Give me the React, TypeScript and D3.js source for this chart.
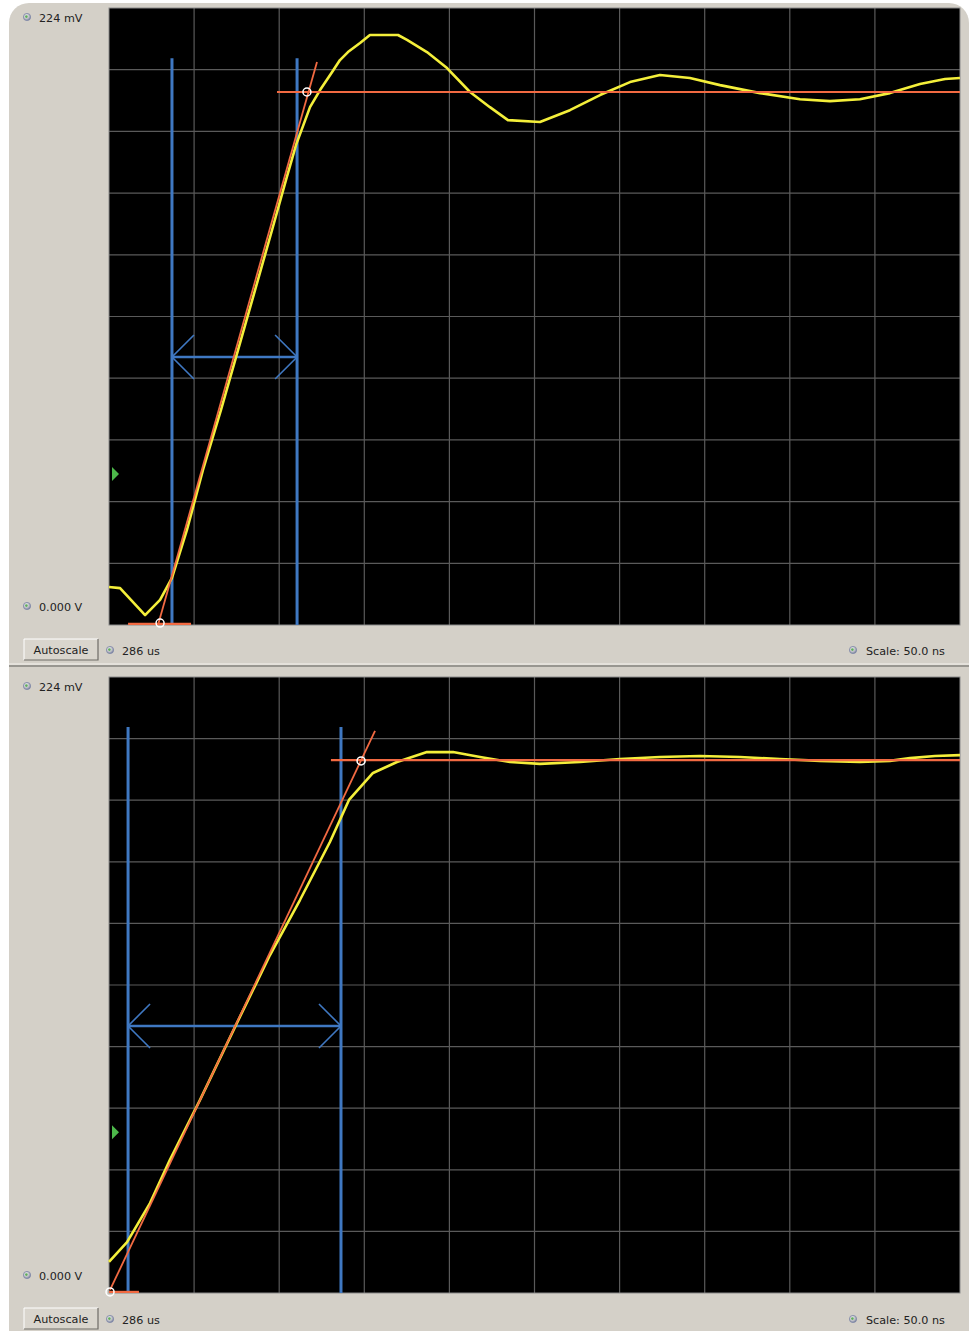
import React from "react";
import * as d3 from "d3";

// time in ns (50 ns/div), amplitude in mV (0 .. 224 mV)
const TIME_A = [0, 6.5, 21.2, 30.0, 37.0, 45.8, 55.2, 65.8, 75.8, 85.8, 95.8, 104.0, 109.9, 118.1, 124.0, 131.0, 135.7, 140.4, 147.5, 153.3, 169.8, 175.1, 186.8, 198.6, 212.1, 223.8, 234.4, 253.2, 270.8, 288.5, 306.1, 323.7, 341.3, 359.0, 382.5, 406.0, 423.6, 441.2, 458.8, 476.5, 491.2, 500];
const MV_A = [13.8, 13.4, 3.6, 9.1, 17.1, 34.5, 56.3, 78.1, 99.8, 121.6, 143.4, 161.6, 174.3, 188.0, 194.2, 200.7, 205.1, 208.0, 211.3, 214.2, 214.2, 212.4, 208.0, 202.2, 193.5, 188.0, 183.3, 182.6, 186.9, 192.4, 197.1, 199.7, 198.6, 196.0, 193.1, 190.9, 190.2, 190.9, 193.1, 196.4, 198.2, 198.6];

const TIME_B = [0, 10.6, 24.1, 35.8, 53.5, 74.0, 94.6, 112.2, 129.8, 141.0, 155.1, 169.2, 186.8, 202.1, 218.0, 235.6, 253.2, 276.7, 300.2, 323.7, 347.2, 370.7, 394.2, 417.7, 441.2, 458.8, 470.6, 485.3, 500];
const MV_B = [11.3, 18.5, 32.7, 48.4, 70.2, 96.7, 122.9, 142.9, 164.0, 179.3, 189.1, 193.1, 196.7, 196.7, 194.9, 193.1, 192.4, 193.1, 194.2, 194.9, 195.3, 194.9, 194.2, 193.5, 193.1, 193.5, 194.5, 195.3, 195.6];

// fitted edge line [t0, v0, t1, v1]
const FIT_A = [28.8, 0, 122.2, 204.4];
const FIT_B = [0.6, 1.1, 156.3, 204.4];
// reference markers [t, mV]
const MARKS_A = [[30.0, 0.7], [116.3, 193.5]];
const MARKS_B = [[0.6, 0.4], [148.1, 193.5]];
// level lines [tStart, tEnd, mV]
const LEVELS_A = [[11.2, 48.2, 0.4], [98.7, 500, 193.5]];
const LEVELS_B = [[0, 17.6, 0.4], [130.4, 500, 193.8]];
// cursors: times, top mV, arrow mV
const CURSORS_A = [37.0, 110.5];
const CURSORS_B = [11.2, 136.3];
const CURSOR_TOP = 205.8;
const ARROW_A = 97.3;
const ARROW_B = 97.1;
const TRIGGER_A = 54.8;
const TRIGGER_B = 58.5;

const V_TOP_LABEL = "224 mV";
const V_BOT_LABEL = "0.000 V";
const TIMEBASE_LABEL = "286 us";
const SCALE_LABEL = "Scale: 50.0 ns";

const FONT = "'DejaVu Sans', Verdana, sans-serif";
const FS = 11.2;
const PLOT_X = 109;
const PLOT_W = 851;

const Led = ({ x, y }: { x: number; y: number }) => (
    <g>
        <circle cx={x} cy={y} r={3.6} fill="url(#ledGrad)" stroke="#7d86a8" strokeWidth={0.8} />
        <circle cx={x - 0.6} cy={y - 0.4} r={1.3} fill="#5fae5a" />
    </g>
);

interface ScopeProps {
    top: number;
    height: number;
    time: number[];
    mv: number[];
    fit: number[];
    marks: number[][];
    levels: number[][];
    cursors: number[];
    arrow: number;
    trigger: number;
}

const Scope = ({ top, height, time, mv, fit, marks, levels, cursors, arrow, trigger }: ScopeProps) => {
    const x = d3.scaleLinear().domain([0, 500]).range([PLOT_X, PLOT_X + PLOT_W]);
    const y = d3.scaleLinear().domain([0, 224]).range([top + height, top]);
    const pts = time.map((t, i) => [t, mv[i]] as [number, number]);
    const line = d3.line<[number, number]>().x(d => x(d[0])).y(d => y(d[1]));
    const xTicks = d3.range(0, 501, 50);
    const yTicks = d3.range(0, 11).map(i => i * 22.4);
    const blue = "#3f78c2";
    const red = "#f26a42";
    const ay = y(arrow);
    const [c0, c1] = cursors.map(c => x(c));
    const head = 22;

    return (
        <g>
            <rect x={PLOT_X} y={top} width={PLOT_W} height={height} fill="#000" />
            {xTicks.slice(1, -1).map(t => (
                <line key={"x" + t} x1={x(t)} x2={x(t)} y1={top} y2={top + height} stroke="#5a5a5a" strokeWidth={1.2} />
            ))}
            {yTicks.slice(1, -1).map(t => (
                <line key={"y" + t} x1={PLOT_X} x2={PLOT_X + PLOT_W} y1={y(t)} y2={y(t)} stroke="#5a5a5a" strokeWidth={1.2} />
            ))}
            <rect x={PLOT_X} y={top} width={PLOT_W} height={height} fill="none" stroke="#8a8a8a" strokeWidth={1} />

            {cursors.map((c, i) => (
                <line key={i} x1={x(c)} x2={x(c)} y1={y(CURSOR_TOP)} y2={top + height} stroke={blue} strokeWidth={3} />
            ))}
            <line x1={c0} x2={c1} y1={ay} y2={ay} stroke={blue} strokeWidth={2.5} />
            <path d={`M${c0 + head},${ay - head}L${c0},${ay}L${c0 + head},${ay + head}`} fill="none" stroke={blue} strokeWidth={1.6} />
            <path d={`M${c1 - head},${ay - head}L${c1},${ay}L${c1 - head},${ay + head}`} fill="none" stroke={blue} strokeWidth={1.6} />

            <path d={line(pts) || ""} fill="none" stroke="#f4ef3a" strokeWidth={2.6} strokeLinejoin="round" />

            {levels.map((l, i) => (
                <line key={i} x1={x(l[0])} x2={x(l[1])} y1={y(l[2])} y2={y(l[2])} stroke={red} strokeWidth={2.2} />
            ))}
            <line x1={x(fit[0])} y1={y(fit[1])} x2={x(fit[2])} y2={y(fit[3])} stroke={red} strokeWidth={1.8} />
            {marks.map((m, i) => (
                <circle key={i} cx={x(m[0])} cy={y(m[1])} r={4} fill="none" stroke="#fff" strokeWidth={1.5} />
            ))}

            <path d={`M${PLOT_X + 3},${y(trigger) - 7}L${PLOT_X + 10},${y(trigger)}L${PLOT_X + 3},${y(trigger) + 7}Z`} fill="#4cb84a" />

            <Led x={27} y={top + 9} />
            <text x={39} y={top + 14} fontSize={FS} fontFamily={FONT} fill="#222">{V_TOP_LABEL}</text>
            <Led x={27} y={top + 598} />
            <text x={39} y={top + 603} fontSize={FS} fontFamily={FONT} fill="#222">{V_BOT_LABEL}</text>

            <rect x={24} y={top + 631} width={74} height={21} fill="#d9d5cd" />
            <path d={`M24,${top + 652}V${top + 631}H98`} fill="none" stroke="#ffffff" strokeWidth={1} />
            <path d={`M24,${top + 652}H98V${top + 631}`} fill="none" stroke="#6e6c67" strokeWidth={1.2} />
            <text x={61} y={top + 646} fontSize={FS} fontFamily={FONT} fill="#222" textAnchor="middle">Autoscale</text>

            <Led x={110} y={top + 642} />
            <text x={122} y={top + 647} fontSize={FS} fontFamily={FONT} fill="#222">{TIMEBASE_LABEL}</text>
            <Led x={853} y={top + 642} />
            <text x={866} y={top + 647} fontSize={FS} fontFamily={FONT} fill="#222">{SCALE_LABEL}</text>
        </g>
    );
};

export default function App() {
    return (
        <div style={{ position: "absolute", left: 0, top: 0 }}>
            <svg width={970} height={1331} style={{ display: "block" }}>
                <defs>
                    <radialGradient id="ledGrad" cx="0.4" cy="0.35" r="0.7">
                        <stop offset="0" stopColor="#f4f4f4" />
                        <stop offset="0.6" stopColor="#b8bac2" />
                        <stop offset="1" stopColor="#6a7396" />
                    </radialGradient>
                </defs>
                <rect width={970} height={1331} fill="#ffffff" />
                <rect x={9} y={3} width={960} height={1350} rx={20} fill="#d4d0c8" />
                <line x1={9} x2={969} y1={664} y2={664} stroke="#f4f2ee" strokeWidth={1} />
                <line x1={9} x2={969} y1={666} y2={666} stroke="#85837e" strokeWidth={1.6} />
                <Scope top={8} height={617} time={TIME_A} mv={MV_A} fit={FIT_A} marks={MARKS_A} levels={LEVELS_A}
                    cursors={CURSORS_A} arrow={ARROW_A} trigger={TRIGGER_A} />
                <Scope top={677} height={616} time={TIME_B} mv={MV_B} fit={FIT_B} marks={MARKS_B} levels={LEVELS_B}
                    cursors={CURSORS_B} arrow={ARROW_B} trigger={TRIGGER_B} />
            </svg>
        </div>
    );
}
